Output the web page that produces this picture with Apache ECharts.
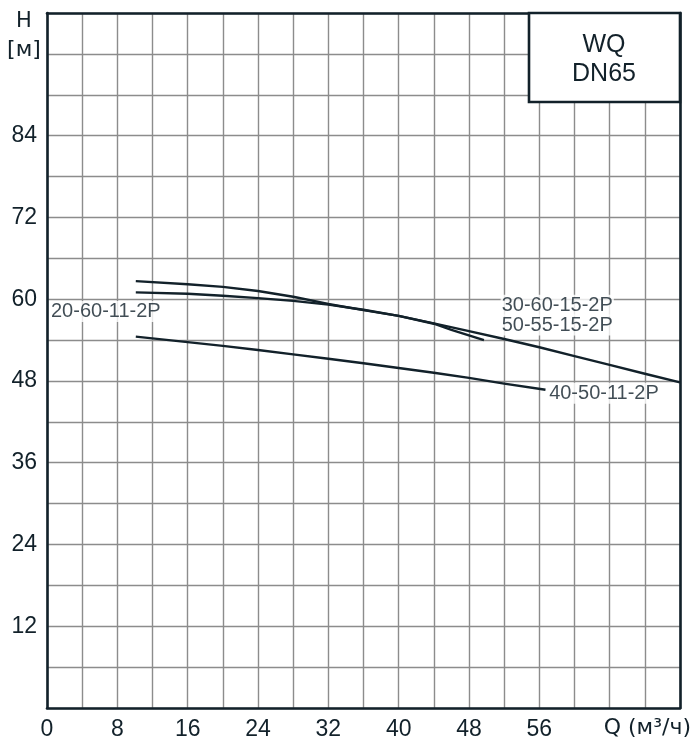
<!DOCTYPE html>
<html>
<head>
<meta charset="utf-8">
<script src="https://cdn.jsdelivr.net/npm/echarts@6/dist/echarts.min.js"></script>
<style>
html,body{margin:0;padding:0;background:#fff;}
#chart{width:694px;height:743px;}
</style>
</head>
<body>
<div id="chart"></div>
<script>
// Axis ticks
const xTickLabels = [0, 8, 16, 24, 32, 40, 48, 56];
const yTickLabels = [12, 24, 36, 48, 60, 72, 84];

// Curve 20-60-11-2P
const q_20_60_11 = [10.1, 16, 20, 24, 28, 32, 36, 40, 44, 46, 49.7];
const h_20_60_11 = [62.65, 62.2, 61.8, 61.2, 60.35, 59.3, 58.4, 57.55, 56.4, 55.5, 54.0];

// Curve 30-60-15-2P / 50-55-15-2P
const q_30_60_15 = [10.1, 16, 20, 24, 28, 32, 36, 40, 44, 48, 52, 56, 60, 64, 68, 72];
const h_30_60_15 = [61.0, 60.8, 60.5, 60.15, 59.75, 59.2, 58.45, 57.55, 56.45, 55.3, 54.15, 52.95, 51.65, 50.35, 49.05, 47.8];

// Curve 40-50-11-2P
const q_40_50_11 = [10.1, 16, 20, 24, 28, 32, 36, 40, 44, 48, 52, 56.7];
const h_40_50_11 = [54.5, 53.7, 53.15, 52.55, 51.9, 51.25, 50.6, 49.9, 49.2, 48.45, 47.6, 46.7];

// Curve name labels [Q, H, text]
const curveLabels = [
  [0.34, 58.2, '20-60-11-2P'],
  [51.6, 59.1, '30-60-15-2P'],
  [51.6, 56.2, '50-55-15-2P'],
  [57.0, 46.2, '40-50-11-2P']
];

const DARK = '#12212a';
const GRIDC = '#8c8c8c';
const tickFont = '"Liberation Sans Narrow", "Arial Narrow", "Liberation Sans", Arial, sans-serif';

function zip(a, b) { return a.map((v, i) => [v, b[i]]); }

const chart = echarts.init(document.getElementById('chart'), null, {renderer: 'canvas'});

const lineSeries = (name, q, h) => ({
  name: name,
  type: 'line',
  data: zip(q, h),
  smooth: false,
  showSymbol: false,
  symbol: 'none',
  lineStyle: {color: DARK, width: 2.4, join: 'round'},
  z: 5,
  silent: true
});

chart.setOption({
  backgroundColor: '#fff',
  animation: false,
  grid: {left: 47, right: 14, top: 13, bottom: 35, containLabel: false},
  xAxis: [{
    type: 'value', min: 0, max: 72, interval: 4,
    axisLine: {show: true, onZero: false, lineStyle: {color: DARK, width: 2.6}},
    axisTick: {show: false},
    axisLabel: {
      margin: 10, fontSize: 23, color: DARK, fontFamily: tickFont,
      formatter: v => xTickLabels.includes(v) ? String(v) : ''
    },
    splitLine: {show: true, lineStyle: {color: GRIDC, width: 1.4}}
  }, {
    type: 'value', min: 0, max: 72, interval: 4, position: 'top',
    axisLine: {show: true, onZero: false, lineStyle: {color: DARK, width: 2.6}},
    axisTick: {show: false}, axisLabel: {show: false}, splitLine: {show: false}
  }],
  yAxis: [{
    type: 'value', min: 0, max: 102, interval: 6,
    axisLine: {show: true, onZero: false, lineStyle: {color: DARK, width: 2.6}},
    axisTick: {show: false},
    axisLabel: {
      margin: 10, fontSize: 23, color: DARK, fontFamily: tickFont,
      formatter: v => yTickLabels.includes(v) ? String(v) : ''
    },
    splitLine: {show: true, lineStyle: {color: GRIDC, width: 1.4}}
  }, {
    type: 'value', min: 0, max: 102, interval: 6, position: 'right',
    axisLine: {show: true, onZero: false, lineStyle: {color: DARK, width: 2.6}},
    axisTick: {show: false}, axisLabel: {show: false}, splitLine: {show: false}
  }],
  series: [
    lineSeries('20-60-11-2P', q_20_60_11, h_20_60_11),
    lineSeries('30-60-15-2P', q_30_60_15, h_30_60_15),
    lineSeries('40-50-11-2P', q_40_50_11, h_40_50_11),
    {
      type: 'scatter',
      symbolSize: 0,
      silent: true,
      z: 6,
      data: curveLabels.map(d => ({value: [d[0], d[1]], name: d[2]})),
      label: {
        show: true,
        position: [0, 0],
        align: 'left',
        verticalAlign: 'middle',
        formatter: p => p.name,
        fontSize: 20,
        fontFamily: '"Liberation Sans", Arial, sans-serif',
        color: DARK,
        backgroundColor: '#fff',
        padding: [1, 1, 0, 1]
      }
    }
  ],
  graphic: [
    {type: 'text', x: 24, y: 22, style: {text: 'H', font: '21px "DejaVu Sans", sans-serif', fill: DARK, align: 'center', verticalAlign: 'middle'}},
    {type: 'text', x: 24, y: 50, style: {text: '[м]', font: '22px "DejaVu Sans", sans-serif', fill: DARK, align: 'center', verticalAlign: 'middle'}},
    {type: 'rect', shape: {x: 529, y: 13, width: 151, height: 89}, style: {fill: '#fff', stroke: DARK, lineWidth: 2.6}, z: 10},
    {type: 'text', x: 604, y: 45, z: 11, style: {text: 'WQ', font: '25px "Liberation Sans", Arial, sans-serif', fill: DARK, align: 'center', verticalAlign: 'middle'}},
    {type: 'text', x: 604, y: 74, z: 11, style: {text: 'DN65', font: '25px "Liberation Sans", Arial, sans-serif', fill: DARK, align: 'center', verticalAlign: 'middle'}},
    {type: 'text', x: 691, y: 728, z: 11, style: {text: 'Q (м³/ч)', font: '22px "DejaVu Sans", sans-serif', fill: DARK, align: 'right', verticalAlign: 'middle'}}
  ]
});
</script>
</body>
</html>
